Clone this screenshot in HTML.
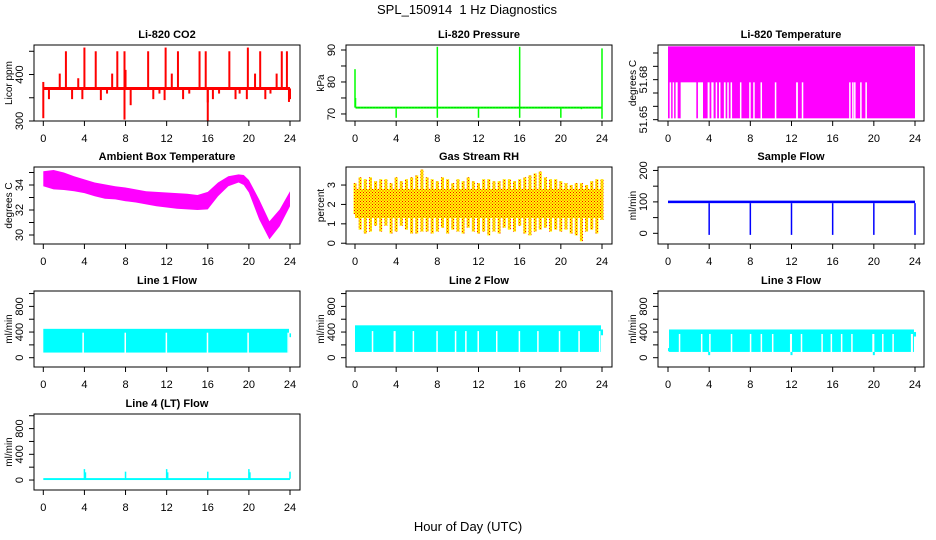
<!DOCTYPE html>
<html><head><meta charset="utf-8">
<style>
html,body{margin:0;padding:0;background:#fff;}
svg{display:block;font-family:"Liberation Sans",Arial,sans-serif;}
</style></head>
<body>
<svg id="chart" width="936" height="540" viewBox="0 0 936 540">
<defs>
<pattern id="rhpat" width="3" height="3" patternUnits="userSpaceOnUse">
<rect width="3" height="3" fill="#ffff00"/><rect x="0" y="0" width="1" height="1" fill="#ff0000"/><rect x="1.5" y="1.5" width="1" height="1" fill="#ff0000"/>
</pattern>
</defs>
<text x="467" y="14" font-size="13" text-anchor="middle">SPL_150914&#160; 1 Hz Diagnostics</text>
<text x="468" y="531" font-size="13" text-anchor="middle">Hour of Day (UTC)</text>
</svg>
<script>
// ---- shared axis data ----
const xTicks = [0,4,8,12,16,20,24];

// ---- Li-820 CO2 ----
const co2Base = 370;
const co2SpikeHours = [0.0,0.0,0.55,1.6,2.2,2.8,3.4,3.8,4.0,5.1,5.6,6.2,6.7,7.2,7.9,7.9,8.0,8.5,10.2,10.7,11.3,11.8,11.9,12.5,13.1,13.6,14.2,15.2,15.8,16.0,16.0,16.5,17.1,18.1,18.7,19.1,19.8,19.9,20.6,21.1,21.6,22.1,22.7,23.2,23.7,23.9,24.0];
const co2SpikeValues = [384,306,347,402,450,347,392,347,458,450,345,359,402,450,450,303,410,334,450,347,359,345,458,402,450,347,359,450,450,340,300,347,359,450,347,359,347,458,402,450,347,359,402,450,450,341,347];

// ---- Li-820 Pressure ----
const presBase = 72;
const presSpikeHours = [0,0.05,4,8,8,12,16,16,20,22,24,24];
const presSpikeValues = [84,75,68.8,91,68.8,68.8,91,68.8,68.8,71.5,90.5,68.5];

// ---- Li-820 Temperature (discrete levels) ----
const tempHigh = 51.705, tempMid = 51.678, tempLow = 51.651;
const tempGapStart = [0.16,0.45,0.74,1.23,2.91,3.85,4.21,4.63,4.95,5.43,5.76,6.08,6.99,7.89,8.28,8.99,10.38,12.45,13.0,17.6,17.89,18.08,18.67,19.18];
const tempGapEnd   = [0.29,0.55,0.94,2.75,3.40,4.04,4.43,4.76,5.08,5.60,5.89,6.18,7.08,7.99,8.38,9.09,10.48,12.62,13.13,17.7,17.99,18.2,18.77,19.31];

// ---- Ambient Box Temperature ----
const ambHours = [0,1,2,3,4,5,6,7,8,9,10,11,12,13,14,15,16,17,18,19,19.5,20,21,22,23,24];
const ambHigh = [35.1,35.2,35.0,34.7,34.45,34.2,34.05,33.9,33.8,33.65,33.5,33.45,33.4,33.35,33.3,33.2,33.45,34.2,34.7,34.85,34.8,34.4,32.85,31.1,32.05,33.5];
const ambLow  = [33.9,33.65,33.6,33.5,33.35,33.1,32.9,32.85,32.7,32.6,32.45,32.3,32.2,32.1,32.05,32.0,32.05,33.1,33.9,34.2,34.0,33.4,31.25,29.65,30.7,32.3];

// ---- Gas Stream RH ----
const rhHours = [0,0.5,1,1.5,2,2.5,3,3.5,4,4.5,5,5.5,6,6.5,7,7.5,8,8.5,9,9.5,10,10.5,11,11.5,12,12.5,13,13.5,14,14.5,15,15.5,16,16.5,17,17.5,18,18.5,19,19.5,20,20.5,21,21.5,22,22.5,23,23.5,24];
const rhHigh = [3.1,3.4,3.3,3.4,3.2,3.3,3.3,3.1,3.4,3.2,3.3,3.4,3.5,3.8,3.4,3.3,3.2,3.4,3.3,3.1,3.3,3.2,3.4,3.2,3.1,3.3,3.3,3.2,3.2,3.3,3.3,3.2,3.3,3.4,3.5,3.6,3.7,3.4,3.3,3.3,3.2,3.1,3.0,3.1,3.1,3.0,3.2,3.3,3.3];
const rhLow  = [1.5,0.7,0.5,0.6,0.9,0.6,0.9,0.5,0.6,0.9,0.7,0.5,0.5,0.6,0.6,0.5,0.6,0.8,0.5,0.7,0.6,0.5,0.8,0.6,0.5,0.6,0.4,0.6,0.5,0.8,0.7,0.6,0.9,0.5,0.4,0.6,0.7,0.8,0.6,0.7,0.6,0.7,0.5,0.4,0.1,0.6,0.7,0.5,1.2];
const rhCoreLow = 1.3, rhCoreHigh = 2.8;

// ---- Sample Flow ----
const sfBaseLow = 96, sfBaseHigh = 104;
const sfDipHours = [4,8,12,16,20,24];
const sfDipValues = [-5,-5,-5,-5,-5,-5];

// ---- Line flows ----
const l1Top = 450, l1Bottom = 80;
const l1GapStart = [3.8,7.9,11.9,15.9,19.85,23.75];
const l1GapEnd   = [3.95,7.97,11.97,15.97,19.92,23.85];
const l2Top = 505, l2Bottom = 90;
const l2GapStart = [1.63,3.75,5.6,7.9,9.7,10.7,11.9,13.7,15.9,17.7,19.8,21.7,23.7];
const l2GapEnd   = [1.7,3.95,5.67,7.97,9.77,10.77,11.97,13.77,15.97,17.77,19.87,21.77,23.85];
const l3Top = 440, l3Solid = 370, l3Bottom = 90;
const l3GapStart = [1.05,3.2,4.0,6.1,7.95,9.0,10.1,11.85,12.9,14.9,15.8,16.8,17.8,19.85,20.8,21.8,23.6];
const l3GapEnd   = [1.12,3.27,4.12,6.17,8.02,9.07,10.17,12.05,12.97,14.97,15.87,16.87,17.87,20.05,20.87,21.87,23.8];
const l3DipHours = [4.0,12.0,20.0];
const l3DipValues = [40,40,40];
const l4Base = 20;
const l4SpikeHours = [4.0,4.1,8.0,12.0,12.1,16.0,20.0,20.1,24.0];
const l4SpikeValues = [170,120,130,170,120,130,170,120,130];

// ---- layout ----
const NS = 'http://www.w3.org/2000/svg';
const svg = document.getElementById('chart');
const COLS = [{bx0:34,bx1:300,x0:43.3,x24:290},{bx0:346,bx1:612,x0:355,x24:602},{bx0:658,bx1:924,x0:668,x24:915}];
const ROWS = [{t:45,b:121},{t:167,b:244},{t:291,b:367},{t:414,b:490}];

function mk(tag, attrs, parent){
  const e = document.createElementNS(NS, tag);
  for (const k in attrs) e.setAttribute(k, attrs[k]);
  (parent||svg).appendChild(e);
  return e;
}

function panel(name, col, row, title, ylab, ymin, ymax, yticks, ylabels){
  const C = COLS[col], R = ROWS[row];
  const g = mk('g', {});
  
  
  const x = h => C.x0 + (C.x24 - C.x0) * h / 24;
  const y = v => R.b - (v - ymin) / (ymax - ymin) * (R.b - R.t);
  const cid = 'clip-' + name;
  const cp = mk('clipPath', {id: cid}, g);
  mk('rect', {x:C.bx0, y:R.t, width:C.bx1-C.bx0, height:R.b-R.t}, cp);
  const data = mk('g', {'clip-path':'url(#' + cid + ')'}, g);
  
  
  const box = mk('rect', {x:C.bx0, y:R.t, width:C.bx1-C.bx0, height:R.b-R.t, fill:'none', stroke:'#000', 'stroke-width':1}, g);
  
  
  const t = mk('text', {x:(C.bx0+C.bx1)/2, y:R.t-7, 'font-size':11, 'font-weight':'bold', 'text-anchor':'middle'}, g);
  t.textContent = title;
  
  
  const xa = mk('g', {}, g);
  
  
  xTicks.forEach(h => {
    mk('line', {x1:x(h), x2:x(h), y1:R.b, y2:R.b+5, stroke:'#000'}, xa);
    const tl = mk('text', {x:x(h), y:R.b+21, 'font-size':11, 'text-anchor':'middle'}, xa);
    tl.textContent = h;
    
    
  });
  const ya = mk('g', {}, g);
  
  
  yticks.forEach(v => mk('line', {x1:C.bx0-5, x2:C.bx0, y1:y(v), y2:y(v), stroke:'#000'}, ya));
  ylabels.forEach(v => {
    const tl = mk('text', {transform:'translate(' + (C.bx0-11) + ',' + y(v) + ') rotate(-90)', 'font-size':11, 'text-anchor':'middle'}, ya);
    tl.textContent = v;
    
    
  });
  const yt = mk('text', {transform:'translate(' + (C.bx0-22) + ',' + (R.t+R.b)/2 + ') rotate(-90)', 'font-size':10, 'text-anchor':'middle'}, g);
  yt.textContent = ylab;
  
  
  return {x, y, g:data};
}

function vline(p, h, v1, v2, color, w){
  return mk('line', {x1:p.x(h), x2:p.x(h), y1:p.y(v1), y2:p.y(v2), stroke:color, 'stroke-width':w||1.5}, p.g);
}
function rectV(p, h1, h2, v1, v2, color){
  const xa = p.x(h1), xb = p.x(h2);
  const w = Math.max(1.5, xb - xa);
  return mk('rect', {x:xa, y:p.y(v2), width:w, height:p.y(v1)-p.y(v2), fill:color}, p.g);
}
function band(p, hours, lo, hi, fill){
  let d = hours.map((h,i) => (i?'L':'M') + p.x(h) + ',' + p.y(hi[i])).join('');
  for (let i = hours.length-1; i >= 0; i--) d += 'L' + p.x(hours[i]) + ',' + p.y(lo[i]);
  return mk('path', {d: d + 'Z', fill: fill}, p.g);
}

// CO2
(function(){
  const p = panel('co2', 0, 0, 'Li-820 CO2', 'Licor ppm', 300, 463.5, [300,350,400,450], [300,400]);
  co2SpikeHours.forEach((h,i) => {
    const l = vline(p, h, co2Base, co2SpikeValues[i], '#ff0000', 2);
    
  });
  const b = mk('line', {x1:p.x(0), x2:p.x(24), y1:p.y(co2Base), y2:p.y(co2Base), stroke:'#ff0000', 'stroke-width':3}, p.g);
  
})();

// Pressure
(function(){
  const p = panel('pressure', 1, 0, 'Li-820 Pressure', 'kPa', 67.8, 91.56, [70,75,80,85,90], [70,80,90]);
  const b = mk('line', {x1:p.x(0.05), x2:p.x(24), y1:p.y(presBase), y2:p.y(presBase), stroke:'#00ff00', 'stroke-width':2}, p.g);
  
  mk('line', {x1:p.x(0.05), x2:p.x(24), y1:p.y(presBase), y2:p.y(presBase), stroke:'#007700', 'stroke-width':1, 'stroke-dasharray':'1 2', opacity:0.6}, p.g);
  presSpikeHours.forEach((h,i) => {
    const l = vline(p, h, presBase, presSpikeValues[i], '#00ff00', 1.5);
    
  });
})();

// Li-820 Temperature
(function(){
  const p = panel('li820-temp', 2, 0, 'Li-820 Temperature', 'degrees C', 51.649, 51.706, [51.65,51.66,51.67,51.68,51.69,51.70], [51.65,51.68]);
  const r = rectV(p, 0, 24, tempLow, tempHigh, '#ff00ff');
  
  tempGapStart.forEach((s,i) => {
    const gp = rectV(p, s, tempGapEnd[i], tempLow-0.002, tempMid, '#ffffff');
    
  });
})();

// Ambient
(function(){
  const p = panel('ambient-temp', 0, 1, 'Ambient Box Temperature', 'degrees C', 29.28, 35.44, [30,31,32,33,34,35], [30,32,34]);
  const b = band(p, ambHours, ambLow, ambHigh, '#ff00ff');
  
})();

// RH
(function(){
  const p = panel('rh', 1, 1, 'Gas Stream RH', 'percent', -0.04, 3.93, [0,1,2,3], [0,1,2,3]);
  rhHours.forEach((h,i) => {
    const l = vline(p, h, rhLow[i], rhHigh[i], 'url(#rhpat)', 3);
    
  });
  const c = rectV(p, 0, 24, rhCoreLow, rhCoreHigh, 'url(#rhpat)');
  
})();

// Sample flow
(function(){
  const p = panel('sample-flow', 2, 1, 'Sample Flow', 'ml/min', -34, 211, [0,50,100,150,200], [0,100,200]);
  const r = rectV(p, 0, 24, sfBaseLow, sfBaseHigh, '#0000ff');
  
  sfDipHours.forEach((h,i) => {
    const l = vline(p, h, sfBaseLow, sfDipValues[i], '#0000ff', 1.5);
    
  });
})();

// Line 1
(function(){
  const p = panel('line1-flow', 0, 2, 'Line 1 Flow', 'ml/min', -145, 1040, [0,200,400,600,800,1000], [0,400,800]);
  const r = rectV(p, 0, 23.9, l1Bottom, l1Top, '#00ffff');
  
  rectV(p, 23.95, 24.1, 320, 380, '#00ffff');
  l1GapStart.forEach((s,i) => {
    const gp = rectV(p, s, l1GapEnd[i], l1Bottom-5, l1Top-60, '#ffffff');
    
  });
})();

// Line 2
(function(){
  const p = panel('line2-flow', 1, 2, 'Line 2 Flow', 'ml/min', -145, 1040, [0,200,400,600,800,1000], [0,400,800]);
  const r = rectV(p, 0, 23.9, l2Bottom, l2Top, '#00ffff');
  
  rectV(p, 23.9, 24.1, 350, 440, '#00ffff');
  l2GapStart.forEach((s,i) => {
    const gp = rectV(p, s, l2GapEnd[i], l2Bottom-5, l2Top-90, '#ffffff');
    
  });
})();

// Line 3
(function(){
  const p = panel('line3-flow', 2, 2, 'Line 3 Flow', 'ml/min', -145, 1040, [0,200,400,600,800,1000], [0,400,800]);
  const r = rectV(p, 0.1, 23.9, l3Bottom, l3Top, '#00ffff');
  
  rectV(p, 0, 0.12, 100, 150, '#00ffff');
  rectV(p, 23.9, 24.1, 330, 400, '#00ffff');
  l3GapStart.forEach((s,i) => {
    const gp = rectV(p, s, l3GapEnd[i], l3Bottom-5, l3Solid, '#ffffff');
    
  });
  l3DipHours.forEach((h,i) => {
    const l = vline(p, h, l3Bottom, l3DipValues[i], '#00ffff', 2);
    
  });
})();

// Line 4
(function(){
  const p = panel('line4-flow', 0, 3, 'Line 4 (LT) Flow', 'ml/min', -155, 1027, [0,200,400,600,800,1000], [0,400,800]);
  const r = rectV(p, 0, 24, 0, 30, '#00ffff');
  
  l4SpikeHours.forEach((h,i) => {
    const l = vline(p, h, l4Base, l4SpikeValues[i], '#00ffff', 1.5);
    
  });
})();
</script>
</body></html>
